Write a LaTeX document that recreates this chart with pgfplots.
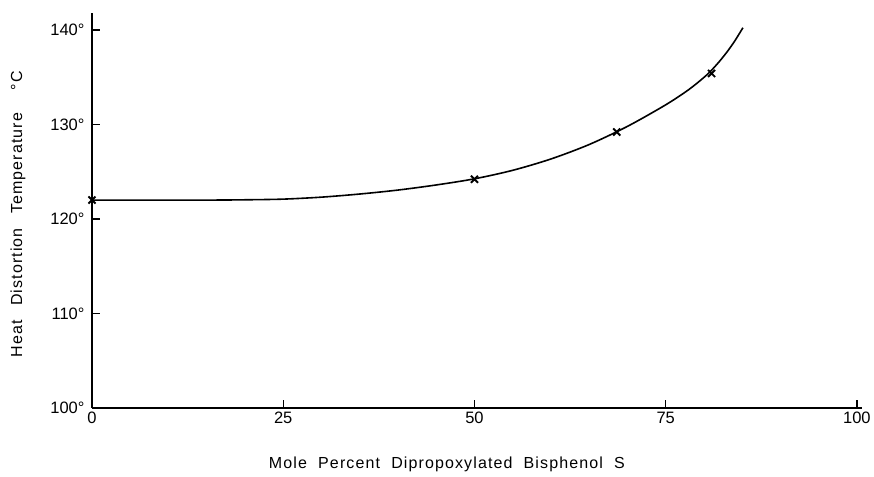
\documentclass[border=0pt]{standalone}
\usepackage{fontspec}
\setmainfont{Liberation Sans}
\newfontfamily\lblfont[LetterSpace=7]{Liberation Sans}
\usepackage{pgfplots}
\pgfplotsset{compat=1.18}

\pgfplotstableread{
x    y
0    122.0
15   122.0
20   122.03
25   122.1
30   122.31
35   122.64
40   123.06
45   123.60
50   124.25
55   125.15
60   126.35
65   127.88
70   129.8
75   132.08
78   133.68
80   134.98
81   135.75
82   136.65
83   137.66
84   138.8
85.1 140.24
}\curve

\pgfplotstableread{
x    y
0    122.0
50   124.2
68.6 129.2
81   135.4
}\measured

\begin{document}
\begin{tikzpicture}
\begin{axis}[
  scale only axis,
  width=770pt, height=395pt,
  xmin=0, xmax=100.65,
  ymin=100, ymax=141.8,
  axis lines*=left,
  axis line style={line width=1.7pt},
  tick align=inside,
  major tick length=8pt,
  tick style={line width=1.3pt, black},
  xtick={0,25,50,75,100},
  xticklabels={0,25,50,75,100},
  ytick={100,110,120,130,140},
  yticklabels={100°,110°,120°,130°,140°},
  ticklabel style={font=\fontsize{16.5}{18}\selectfont},
  xticklabel style={yshift=-1pt},
  yticklabel style={xshift=-4pt},
  xlabel={\lblfont Mole\hspace{0.7em}Percent\hspace{0.7em}Dipropoxylated\hspace{0.7em}Bisphenol\hspace{0.7em}S},
  ylabel={\lblfont Heat\hspace{0.9em}Distortion\hspace{0.9em}Temperature\hspace{1.4em}°C},
  label style={font=\fontsize{16}{18}\selectfont},
  xlabel style={at={(axis description cs:0.461,-0.144)}, anchor=center},
  ylabel style={at={(axis description cs:-0.096,0.49)}, anchor=center},
  clip=false,
]
\addplot[black, line width=1.6pt, smooth, tension=0.5] table[x=x,y=y] {\curve};
\addplot[black, only marks, mark=x, mark size=5pt, line width=1.9pt] table[x=x,y=y] {\measured};
\end{axis}
\path (-92pt,-69pt) rectangle (782pt,408pt);
\end{tikzpicture}
\end{document}
